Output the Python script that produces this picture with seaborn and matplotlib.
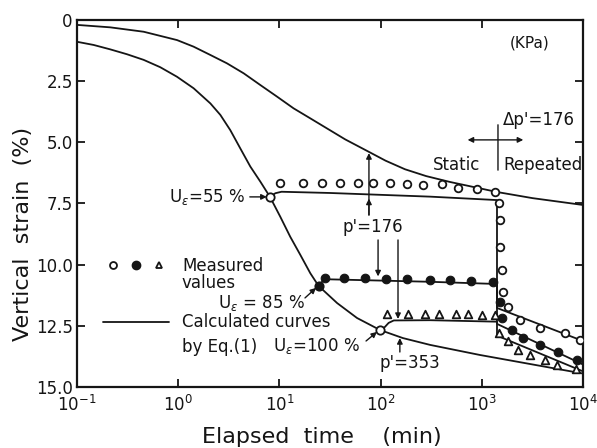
import numpy as np
import pandas as pd
import seaborn as sns
import matplotlib.pyplot as plt
from matplotlib.lines import Line2D
from matplotlib.legend_handler import HandlerTuple

sns.set_style("ticks")
plt.rcParams['font.family'] = ['DejaVu Sans']
plt.rcParams['mathtext.fontset'] = 'dejavusans'

INK = '#151515'

# calculated curves, static loading (time in min, strain in %)
t_p176 = [0.1, 0.213, 0.456, 0.973, 1.42, 2.08, 3.03, 4.44, 6.49, 9.46, 13.8, 20.2,
          29.5, 44.7, 73.5, 112, 174, 282, 485, 1413, 3162, 10000]
s_p176 = [0.20, 0.30, 0.48, 0.82, 1.09, 1.43, 1.77, 2.18, 2.66, 3.13, 3.61, 4.02,
          4.43, 4.88, 5.35, 5.75, 6.10, 6.38, 6.62, 7.03, 7.28, 7.56]

t_p353 = [0.1, 0.146, 0.213, 0.312, 0.456, 0.665, 0.973, 1.42, 2.08, 2.61, 3.27, 4.11,
          5.16, 6.49, 8.07, 10.2, 12.8, 16.1, 20.2, 24.4, 37.2, 58.5, 98.6, 166, 309,
          955, 10000]
s_p353 = [0.89, 1.02, 1.20, 1.40, 1.63, 1.93, 2.32, 2.79, 3.41, 3.88, 4.50, 5.25,
          5.99, 6.61, 7.23, 8.04, 8.86, 9.60, 10.35, 10.87, 11.57, 12.18, 12.67, 13.0,
          13.28, 13.69, 14.45]

# calculated curves after load change at U = 55, 85, 100 %
t_u55 = [8.07, 9.12, 10.5, 31.6, 309, 1413, 1413, 10000]
s_u55 = [7.23, 7.08, 7.02, 7.07, 7.22, 7.36, 11.77, 13.12]
t_u85 = [24.4, 26.9, 31.6, 309, 1413, 1413, 10000]
s_u85 = [10.87, 10.66, 10.60, 10.70, 10.79, 12.42, 14.08]
t_u100 = [98.6, 110, 120, 135, 309, 1413, 1413, 10000]
s_u100 = [12.67, 12.55, 12.38, 12.28, 12.27, 12.33, 12.90, 14.36]

# measured values
t_open = [10.1, 17.1, 26.4, 39.7, 59.8, 84.1, 124, 182, 262, 405, 582, 897, 1349,
          1479, 1514, 1514, 1585, 1622, 1820, 2399, 3802, 6607, 9333]
s_open = [6.66, 6.66, 6.66, 6.66, 6.66, 6.66, 6.66, 6.70, 6.74, 6.70, 6.87, 6.90, 7.03,
          7.48, 8.17, 9.28, 10.2, 11.1, 11.73, 12.26, 12.59, 12.80, 13.08]
t_fill = [28.2, 43.7, 70.8, 112, 182, 309, 490, 776, 1288,
          1514, 1585, 1995, 2570, 3802, 5623, 8710]
s_fill = [10.54, 10.54, 10.56, 10.58, 10.60, 10.62, 10.62, 10.66, 10.70,
          11.52, 12.18, 12.67, 13.00, 13.28, 13.57, 13.90]
t_tri = [115, 186, 275, 380, 550, 724, 1000, 1349,
         1479, 1820, 2291, 3020, 4169, 5495, 8511]
s_tri = [12.02, 12.02, 12.02, 12.0, 12.0, 12.0, 12.04, 12.04,
         12.79, 13.12, 13.49, 13.69, 13.90, 14.10, 14.26]

# load change points
t_onset = [8.07, 24.4, 98.6]
s_onset = [7.23, 10.87, 12.67]
onset_face = ['white', INK, 'white']

y_ticks = [0, 2.5, 5.0, 7.5, 10.0, 12.5, 15.0]
y_labels = ['0', '2.5', '5.0', '7.5', '10.0', '12.5', '15.0']
x_ticks = [0.1, 1, 10, 100, 1000, 10000]
x_labels = [r'$10^{-1}$', r'$10^{0}$', r'$10^{1}$', r'$10^{2}$', r'$10^{3}$', r'$10^{4}$']

fig = plt.figure(figsize=(5.97, 4.48), dpi=100)
ax = fig.add_axes([77 / 597, 1 - 387 / 448, 506 / 597, 367 / 448])
ax.set_xscale('log')

for t, s in [(t_p176, s_p176), (t_p353, s_p353), (t_u55, s_u55), (t_u85, s_u85), (t_u100, s_u100)]:
    sns.lineplot(x=t, y=s, ax=ax, color=INK, lw=1.3, estimator=None, sort=False)

sns.scatterplot(x=t_open, y=s_open, ax=ax, marker='o', s=30, color='white',
                edgecolor=INK, linewidth=1.3, zorder=3)
sns.scatterplot(x=t_fill, y=s_fill, ax=ax, marker='o', s=38, color=INK,
                edgecolor=INK, linewidth=0.8, zorder=3)
sns.scatterplot(x=t_tri, y=s_tri, ax=ax, marker='^', s=30, color='white',
                edgecolor=INK, linewidth=1.3, zorder=3)
for t, s, fc in zip(t_onset, s_onset, onset_face):
    sns.scatterplot(x=[t], y=[s], ax=ax, marker='o', s=36, color=fc,
                    edgecolor=INK, linewidth=1.3, zorder=4)

ax.set_xlim(0.1, 10000)
ax.set_ylim(15, 0)
ax.set_xticks(x_ticks)
ax.set_xticklabels(x_labels)
ax.xaxis.set_minor_locator(plt.NullLocator())
ax.set_yticks(y_ticks)
ax.set_yticklabels(y_labels)
ax.tick_params(direction='in', length=6, width=1.3, top=True, right=True,
               labelsize=12, colors=INK)
ax.tick_params(axis='x', pad=6)
ax.tick_params(axis='y', pad=3)
for sp in ax.spines.values():
    sp.set_linewidth(1.6)
    sp.set_color(INK)

ax.set_xlabel('Elapsed  time    (min)', fontsize=16, color=INK)
ax.set_ylabel('Vertical  strain  (%)', fontsize=16, color=INK)
ax.xaxis.set_label_coords(0.484, -0.11)
ax.yaxis.set_label_coords(-0.087, 0.417)

arr = dict(arrowstyle='-|>', color=INK, lw=1.0, mutation_scale=8, shrinkA=0, shrinkB=0)
txt = dict(fontsize=12, color=INK)

ax.text(2990, 0.94, '(KPa)', ha='center', va='center', fontsize=11, color=INK)
ax.text(1622, 4.1, "Δp'=176", ha='left', va='center', **txt)
ax.annotate('', xy=(2570, 4.9), xytext=(724, 4.9),
            arrowprops=dict(arrowstyle='<|-|>', color=INK, lw=1.0, mutation_scale=8,
                            shrinkA=0, shrinkB=0))
ax.annotate('', xy=(1445, 4.17), xytext=(1445, 6.25),
            arrowprops=dict(arrowstyle='-', color=INK, lw=1.0))
ax.text(955, 5.93, 'Static', ha='right', va='center', **txt)
ax.text(1622, 5.93, 'Repeated', ha='left', va='center', **txt)

ax.text(4.6, 7.23, r'U$_\varepsilon$=55 %', ha='right', va='center', **txt)
ax.annotate('', xy=(7.5, 7.23), xytext=(5.1, 7.23), arrowprops=arr)

ax.text(84.1, 8.46, "p'=176", ha='center', va='center', **txt)
ax.annotate('', xy=(76.7, 5.44), xytext=(76.7, 7.97), arrowprops=arr)
ax.annotate('', xy=(76.7, 7.3), xytext=(76.7, 7.97), arrowprops=arr)
ax.annotate('', xy=(94.4, 10.48), xytext=(94.4, 8.99), arrowprops=arr)
ax.annotate('', xy=(148.6, 12.22), xytext=(148.6, 8.99), arrowprops=arr)

ax.text(195, 14.02, "p'=353", ha='center', va='center', **txt)
ax.annotate('', xy=(155, 13.0), xytext=(155, 13.57), arrowprops=arr)

ax.text(6.58, 11.57, r'U$_\varepsilon$ = 85 %', ha='center', va='center', **txt)
ax.annotate('', xy=(23.0, 10.95), xytext=(17.9, 11.36), arrowprops=arr)
ax.text(23.0, 13.32, r'U$_\varepsilon$=100 %', ha='center', va='center', **txt)
ax.annotate('', xy=(92, 12.75), xytext=(71.8, 13.12), arrowprops=arr)

# legend
h_meas = (Line2D([], [], ls='none', marker='o', ms=5, mfc='white', mec=INK, mew=1.3),
          Line2D([], [], ls='none', marker='o', ms=6, mfc=INK, mec=INK),
          Line2D([], [], ls='none', marker='^', ms=5, mfc='white', mec=INK, mew=1.3))
h_calc = Line2D([], [], color=INK, lw=1.3)
leg = ax.legend([h_meas, h_calc], ['Measured', 'Calculated curves'],
                handler_map={tuple: HandlerTuple(ndivide=None, pad=0.18)},
                loc='upper left', bbox_to_anchor=(0.051, 0.354), frameon=False,
                fontsize=12, handlelength=3.96, handletextpad=0.8,
                labelspacing=2.3, borderpad=0, borderaxespad=0)
for t in leg.get_texts():
    t.set_color(INK)
ax.text(1.09, 10.75, 'values', ha='left', va='center', **txt)
ax.text(1.09, 13.36, 'by Eq.(1)', ha='left', va='center', **txt)

fig.savefig('out.png', dpi=100)
